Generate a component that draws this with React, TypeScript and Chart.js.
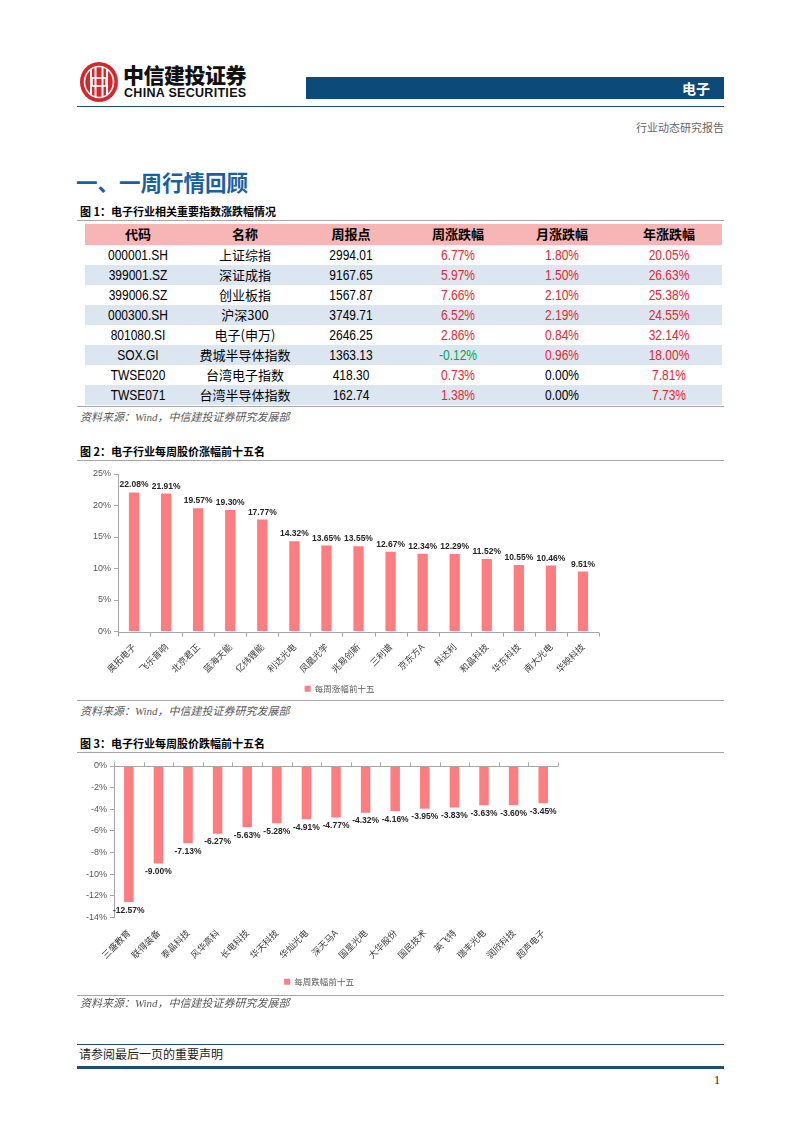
import React, { useEffect, useRef } from "react";
import { Chart, registerables } from "chart.js";

Chart.register(...registerables);

// ---------- Table data ----------
const tableHeaders = ["代码", "名称", "周报点", "周涨跌幅", "月涨跌幅", "年涨跌幅"];
const codes = ["000001.SH", "399001.SZ", "399006.SZ", "000300.SH", "801080.SI", "SOX.GI", "TWSE020", "TWSE071"];
const names = ["上证综指", "深证成指", "创业板指", "沪深300", "电子(申万)", "费城半导体指数", "台湾电子指数", "台湾半导体指数"];
const points = [2994.01, 9167.65, 1567.87, 3749.71, 2646.25, 1363.13, 418.3, 162.74];
const weekly = [6.77, 5.97, 7.66, 6.52, 2.86, -0.12, 0.73, 1.38];
const monthly = [1.8, 1.5, 2.1, 2.19, 0.84, 0.96, 0.0, 0.0];
const yearly = [20.05, 26.63, 25.38, 24.55, 32.14, 18.0, 7.81, 7.73];

// ---------- Chart 2 data ----------
const gainNames = ["奥拓电子", "飞乐音响", "北京君正", "蓝海天能", "亿纬锂能", "利达光电", "凤凰光学", "兆易创新", "三利谱", "京东方A", "科达利", "和晶科技", "华东科技", "南大光电", "华映科技"];
const gainValues = [22.08, 21.91, 19.57, 19.3, 17.77, 14.32, 13.65, 13.55, 12.67, 12.34, 12.29, 11.52, 10.55, 10.46, 9.51];
const gainLegend = "每周涨幅前十五";

// ---------- Chart 3 data ----------
const lossNames = ["三盛教育", "联得装备", "泰晶科技", "风华高科", "长电科技", "华天科技", "华灿光电", "深天马A", "国星光电", "大华股份", "国民技术", "英飞特", "瑞丰光电", "润欣科技", "超声电子"];
const lossValues = [-12.57, -9.0, -7.13, -6.27, -5.63, -5.28, -4.91, -4.77, -4.32, -4.16, -3.95, -3.83, -3.63, -3.6, -3.45];
const lossLegend = "每周跌幅前十五";

const CJK = '"Noto Sans CJK SC", "Noto Sans", sans-serif';
const NUM = '"Liberation Sans", Arial, sans-serif';
const SERIF = '"Liberation Serif", "Noto Sans CJK SC", serif';
const BAR = "#ff7c80";

const fmtPct = (v: number) => v.toFixed(2) + "%";

const valueLabels = {
  id: "valueLabels",
  afterDatasetsDraw(chart: any) {
    const { ctx } = chart;
    const meta = chart.getDatasetMeta(0);
    const data = chart.data.datasets[0].data as number[];
    ctx.save();
    ctx.font = 'bold 8.5px "Liberation Sans", Arial, sans-serif';
    ctx.fillStyle = "#262626";
    ctx.textAlign = "center";
    meta.data.forEach((bar: any, i: number) => {
      const v = data[i];
      if (v >= 0) {
        ctx.textBaseline = "bottom";
        ctx.fillText(fmtPct(v), bar.x, bar.y - 3);
      } else {
        ctx.textBaseline = "top";
        ctx.fillText(fmtPct(v), bar.x, bar.y + 4);
      }
    });
    ctx.restore();
  },
};

const zeroAxis = {
  id: "zeroAxis",
  afterDatasetsDraw(chart: any, _args: any, opts: any) {
    const { ctx, chartArea } = chart;
    const xs = chart.scales.x;
    const ys = chart.scales.y;
    const y0 = Math.round(ys.getPixelForValue(0)) + 0.5;
    const n = chart.data.labels.length;
    const dir = opts && opts.dir ? opts.dir : 1;
    ctx.save();
    ctx.strokeStyle = "#a6a6a6";
    ctx.lineWidth = 1;
    ctx.beginPath();
    ctx.moveTo(chartArea.left, y0);
    ctx.lineTo(chartArea.right, y0);
    for (let i = 0; i <= n; i++) {
      let bx: number;
      if (i === 0) bx = chartArea.left;
      else if (i === n) bx = chartArea.right;
      else bx = (xs.getPixelForValue(i - 1) + xs.getPixelForValue(i)) / 2;
      bx = Math.round(bx) + 0.5;
      ctx.moveTo(bx, y0);
      ctx.lineTo(bx, y0 + dir * 4);
    }
    ctx.stroke();
    ctx.restore();
  },
};

function BarChart(props: {
  labels: string[];
  values: number[];
  legend: string;
  min: number;
  max: number;
  step: number;
  yWidth: number;
  xHeight: number;
  padTop: number;
  padRight: number;
  dir: number;
  width: number;
  height: number;
}) {
  const ref = useRef<HTMLCanvasElement | null>(null);
  useEffect(() => {
    if (!ref.current) return;
    const chart = new Chart(ref.current, {
      type: "bar",
      data: {
        labels: props.labels,
        datasets: [
          {
            label: props.legend,
            data: props.values,
            backgroundColor: BAR,
            borderWidth: 0,
            barPercentage: 0.32,
            categoryPercentage: 1,
          },
        ],
      },
      options: {
        animation: false,
        responsive: false,
        maintainAspectRatio: false,
        layout: { padding: { top: props.padTop, right: props.padRight, left: 0, bottom: 0 } },
        plugins: {
          tooltip: { enabled: false },
          legend: {
            position: "bottom",
            labels: {
              boxWidth: 6,
              boxHeight: 6,
              padding: 8,
              color: "#595959",
              font: { size: 8.5, family: CJK },
            },
          },
          zeroAxis: { dir: props.dir },
        } as any,
        scales: {
          x: {
            border: { display: false },
            grid: { display: false },
            ticks: {
              autoSkip: false,
              maxRotation: 45,
              minRotation: 45,
              color: "#404040",
              font: { size: 9, family: CJK },
              padding: 2,
            },
            afterFit: (s: any) => {
              s.height = props.xHeight;
            },
          },
          y: {
            min: props.min,
            max: props.max,
            border: { display: true, color: "#a6a6a6" },
            grid: { display: true, drawOnChartArea: false, drawTicks: true, tickLength: 4, color: "#a6a6a6" },
            ticks: {
              stepSize: props.step,
              color: "#595959",
              padding: 3,
              font: { size: 9, family: '"Liberation Sans", Arial, sans-serif' },
              callback: (v: any) => v + "%",
            },
            afterFit: (s: any) => {
              s.width = props.yWidth;
            },
          },
        },
      },
      plugins: [zeroAxis, valueLabels],
    });
    return () => chart.destroy();
  }, []);
  return <canvas ref={ref} width={props.width} height={props.height} style={{ width: props.width, height: props.height, display: "block" }} />;
}

const abs = (left: number, top: number, extra: any = {}) => ({ position: "absolute" as const, left, top, ...extra });

function Caption({ top, text }: { top: number; text: string }) {
  return (
    <>
      <div style={abs(80, top - 8, { font: `bold 11px ${CJK}`, color: "#000", lineHeight: "16px", whiteSpace: "nowrap" })}>{text}</div>
      <div style={abs(77, top + 9, { width: 647, height: 0, borderTop: "1.5px solid #a6a6a6" })} />
    </>
  );
}

function Source({ top }: { top: number }) {
  return (
    <div style={abs(80, top - 8, { font: `italic 11px ${SERIF}`, color: "#595959", lineHeight: "16px", whiteSpace: "nowrap" })}>
      资料来源：Wind，中信建投证券研究发展部
    </div>
  );
}

function Logo() {
  return (
    <svg width={40} height={42} viewBox="-20 -21 40 42" style={abs(79, 61)}>
      <ellipse cx={0} cy={0} rx={19} ry={20} fill="#d7262c" />
      <ellipse cx={0} cy={0} rx={14.5} ry={15.5} fill="none" stroke="#fff" strokeWidth={1.6} />
      <rect x={-9} y={-13} width={2} height={26} fill="#fff" />
      <rect x={-4.5} y={-15} width={2} height={30} fill="#fff" />
      <rect x={2.5} y={-15} width={2} height={30} fill="#fff" />
      <rect x={7} y={-13} width={2} height={26} fill="#fff" />
      <rect x={-7} y={-4} width={14} height={8} fill="none" stroke="#fff" strokeWidth={1.6} />
    </svg>
  );
}

function IndexTable() {
  const colCenters = [138, 245, 351, 458, 562, 669];
  const top = 224;
  const headH = 21;
  const rowH = 20;
  const valColor = (v: number) => (v < 0 ? "#00a550" : v === 0 ? "#000" : "#e8262f");
  const rows = codes.map((c, i) => [
    { t: c, color: "#000", f: NUM },
    { t: names[i], color: "#000", f: CJK },
    { t: points[i].toFixed(2), color: "#000", f: NUM },
    { t: fmtPct(weekly[i]), color: valColor(weekly[i]), f: NUM },
    { t: fmtPct(monthly[i]), color: valColor(monthly[i]), f: NUM },
    { t: fmtPct(yearly[i]), color: valColor(yearly[i]), f: NUM },
  ]);
  return (
    <>
      <div style={abs(85, top, { width: 637, height: headH, background: "#f8b5b6" })} />
      {tableHeaders.map((h, j) => (
        <div key={h} style={abs(colCenters[j] - 60, top, { width: 120, textAlign: "center", lineHeight: headH + "px", font: `bold 13px ${CJK}`, color: "#000" })}>
          {h}
        </div>
      ))}
      {rows.map((r, i) => (
        <React.Fragment key={i}>
          <div style={abs(85, top + headH + i * rowH, { width: 637, height: rowH, background: i % 2 === 1 ? "#dce6f0" : "#fff" })} />
          {r.map((cell, j) => (
            <div
              key={j}
              style={abs(colCenters[j] - 60, top + headH + i * rowH, {
                width: 120,
                textAlign: "center",
                lineHeight: rowH + "px",
                fontFamily: cell.f,
                fontSize: cell.f === CJK ? 13 : 15,
                color: cell.color,
                whiteSpace: "nowrap",
                transform: cell.f === CJK ? undefined : "scaleX(0.8)",
              })}
            >
              {cell.t}
            </div>
          ))}
        </React.Fragment>
      ))}
      <div style={abs(77, 406, { width: 647, height: 0, borderTop: "1.5px solid #a6a6a6" })} />
    </>
  );
}

export default function App() {
  return (
    <div style={abs(0, 0, { width: 802, height: 1133, background: "#fff", overflow: "hidden" })}>
      <Logo />
      <div style={abs(123, 60, { font: `900 21px ${CJK}`, color: "#111", lineHeight: "28px", whiteSpace: "nowrap", letterSpacing: "-0.5px" })}>中信建投证券</div>
      <div style={abs(124, 86, { font: `bold 12.5px ${NUM}`, color: "#111", lineHeight: "14px", whiteSpace: "nowrap", letterSpacing: "0.3px" })}>CHINA SECURITIES</div>
      <div style={abs(306, 77, { width: 418, height: 22, background: "#0c4a7a" })} />
      <div style={abs(682, 77, { font: `bold 14px ${CJK}`, color: "#fff", lineHeight: "22px" })}>电子</div>
      <div style={abs(77, 106, { width: 647, height: 0, borderTop: "1.5px solid #1f4e79" })} />
      <div style={abs(636, 119, { font: `11px ${CJK}`, color: "#666", lineHeight: "16px", whiteSpace: "nowrap" })}>行业动态研究报告</div>

      <div style={abs(76, 167, { font: `bold 21.5px ${CJK}`, color: "#1b5fa3", lineHeight: "30px", whiteSpace: "nowrap" })}>一、一周行情回顾</div>

      <Caption top={211} text="图 1：电子行业相关重要指数涨跌幅情况" />
      <IndexTable />
      <Source top={417} />

      <Caption top={451} text="图 2：电子行业每周股价涨幅前十五名" />
      <div style={abs(80, 463)}>
        <BarChart labels={gainNames} values={gainValues} legend={gainLegend} min={0} max={25} step={5} yWidth={38} xHeight={45} padTop={11} padRight={11} dir={1} width={530} height={240} />
      </div>
      <div style={abs(77, 700, { width: 647, height: 0, borderTop: "1.5px solid #a6a6a6" })} />
      <Source top={711} />

      <Caption top={743} text="图 3：电子行业每周股价跌幅前十五名" />
      <div style={abs(80, 756)}>
        <BarChart labels={lossNames} values={lossValues} legend={lossLegend} min={-14} max={0} step={2} yWidth={34} xHeight={52} padTop={10} padRight={12} dir={-1} width={490} height={240} />
      </div>
      <div style={abs(77, 995, { width: 647, height: 0, borderTop: "1.5px solid #a6a6a6" })} />
      <Source top={1003} />

      <div style={abs(77, 1044, { width: 647, height: 0, borderTop: "1px solid #1f4e79" })} />
      <div style={abs(79, 1047, { font: `12px ${SERIF}`, color: "#222", lineHeight: "16px", whiteSpace: "nowrap" })}>请参阅最后一页的重要声明</div>
      <div style={abs(77, 1066, { width: 647, height: 3, background: "#1f4e79" })} />
      <div style={abs(714, 1072, { font: `12px ${SERIF}`, color: "#222", lineHeight: "16px" })}>1</div>
    </div>
  );
}
